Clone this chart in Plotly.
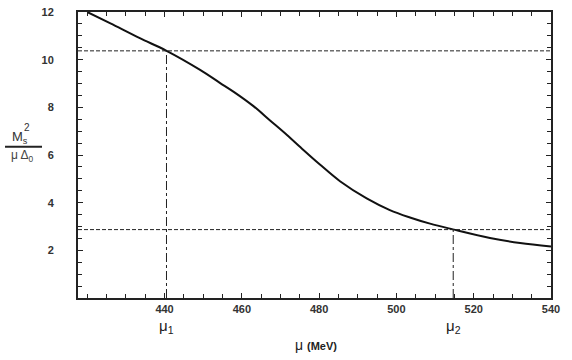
import plotly.graph_objects as go

# chemical potential mu (MeV) and the ratio Ms^2 / (mu Delta_0)
mu = [420.0, 426.0, 433.6, 440.4, 449.2, 454.3, 458.0, 463.0, 467.3, 471.6, 476.0,
      480.2, 485.4, 492.3, 498.3, 503.5, 508.7, 514.6, 524.2, 532.0, 540.0]
ratio = [12.0, 11.52, 10.90, 10.38, 9.57, 9.03, 8.64, 8.05, 7.45, 6.85, 6.20,
         5.60, 4.90, 4.18, 3.69, 3.38, 3.12, 2.88, 2.52, 2.31, 2.16]

# the two marked points
mu_marks = [440.5, 514.7]
ratio_marks = [10.37, 2.87]
mark_labels = ["μ<sub>1</sub>", "μ<sub>2</sub>"]

x_ticks = [440, 460, 480, 500, 520, 540]
y_ticks = [2, 4, 6, 8, 10, 12]

FONT = "Liberation Sans, Arial, sans-serif"


def label(x, y, text, size, color="#222", xref="paper"):
    fig.add_annotation(x=x, y=y, xref=xref, yref="paper", text=text, showarrow=False,
                       xanchor="center", yanchor="middle",
                       font=dict(family=FONT, size=size, color=color))


fig = go.Figure()
fig.add_trace(go.Scatter(x=mu, y=ratio, mode="lines", line_shape="spline",
                         line=dict(color="#111", width=2), showlegend=False))

for m, r, lab in zip(mu_marks, ratio_marks, mark_labels):
    # horizontal dashed line across the whole plot
    fig.add_shape(type="line", xref="paper", yref="y", x0=0, x1=1, y0=r, y1=r,
                  line=dict(color="#222", width=1, dash="4px,2px"))
    # vertical dash-dot line from the axis up to the curve
    fig.add_shape(type="line", xref="x", yref="y", x0=m, x1=m, y0=0, y1=r,
                  line=dict(color="#222", width=1, dash="dashdot"))
    label(m, -0.1, lab, 15, xref="x")

# x axis title
label(0.503, -0.165, "μ <b><span style='font-size:11px'>(MeV)</span></b>", 14)

# y axis label as a fraction
label(-0.1216, 0.562, "M<sub>s</sub>", 13, "#333")
label(-0.107, 0.597, "2", 10, "#333")
label(-0.1173, 0.4965, "μ Δ<sub>0</sub>", 12, "#444")
fig.add_shape(type="line", xref="paper", yref="paper", x0=-0.1543, x1=-0.0761,
              y0=0.529, y1=0.529, line=dict(color="#222", width=2))

fig.update_layout(
    width=572, height=360,
    margin=dict(l=78, r=21, t=12, b=62),
    paper_bgcolor="white", plot_bgcolor="white",
    font=dict(family=FONT, size=11, color="#222"),
    xaxis=dict(range=[417.6, 540], tickvals=x_ticks, ticks="inside", ticklen=5,
               tickcolor="#222", showline=True, linecolor="#222", linewidth=2,
               mirror="allticks", showgrid=False, zeroline=False, automargin=False,
               minor=dict(tick0=440, dtick=5, ticks="inside", ticklen=4, tickcolor="#222"),
               tickfont=dict(size=11, weight="bold", color="#333"), ticklabelstandoff=0),
    yaxis=dict(range=[0, 12], tickvals=y_ticks, ticks="inside", ticklen=5,
               tickcolor="#222", showline=True, linecolor="#222", linewidth=2,
               mirror="allticks", showgrid=False, zeroline=False, automargin=False,
               minor=dict(tick0=0, dtick=0.5, ticks="inside", ticklen=4, tickcolor="#222"),
               tickfont=dict(size=11, weight="bold", color="#333"), ticklabelstandoff=20),
)

fig.write_html("out.html", config={"displayModeBar": False},
               post_script="document.body.style.margin='0';")
